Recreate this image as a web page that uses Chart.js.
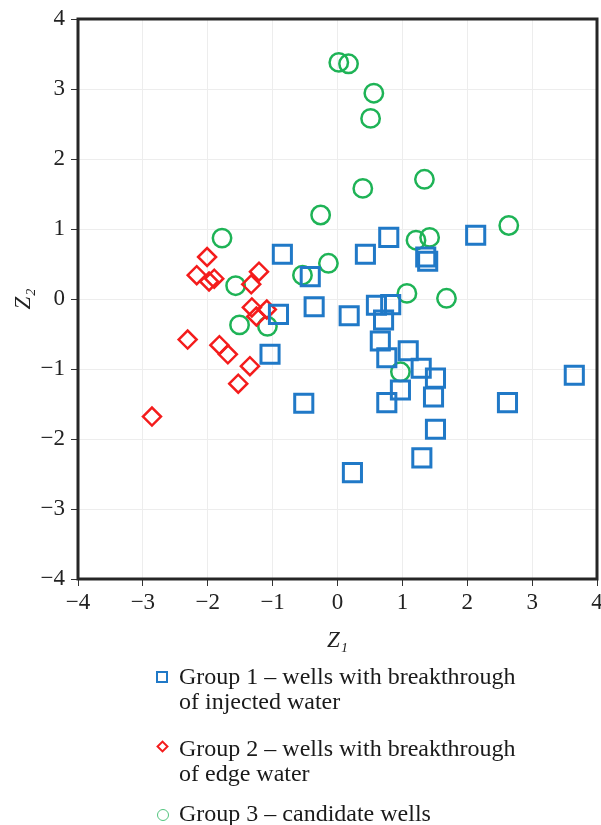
<!DOCTYPE html>
<html>
<head>
<meta charset="utf-8">
<script src="https://cdn.jsdelivr.net/npm/chart.js@4"></script>
<style>
  html, body { margin: 0; padding: 0; background: #fff; }
  #wrap { position: relative; width: 601px; height: 825px; overflow: hidden; }
  #c { position: absolute; left: 0; top: 0; }
  .lg { position: absolute; left: 179px; font-family: 'Liberation Serif', 'Times New Roman', serif; font-size: 24px; line-height: 25px; color: #1a1a1a; white-space: nowrap; }
  .mk { position: absolute; box-sizing: border-box; }
</style>
</head>
<body>
<div id="wrap">
  <canvas id="c" width="601" height="665"></canvas>
  <div id="legend"></div>
</div>
<script>
// ---- data ----
const group1X = [-0.85, -0.42, -0.36, -0.91, -1.04, -0.52, 0.43, 0.79, 1.36, 1.39, 2.13, 0.18, 0.60, 0.82, 0.71, 0.66, 1.09, 0.76, 1.29, 1.51, 0.97, 1.48, 0.76, 3.65, 2.62, 1.51, 1.30, 0.23];
const group1Y = [0.64, 0.32, -0.11, -0.22, -0.79, -1.49, 0.64, 0.88, 0.60, 0.54, 0.91, -0.24, -0.09, -0.08, -0.30, -0.60, -0.74, -0.84, -0.99, -1.13, -1.30, -1.40, -1.48, -1.09, -1.48, -1.86, -2.27, -2.48];

const group2X = [-2.01, -2.17, -1.98, -1.90, -1.21, -1.33, -1.32, -1.09, -1.25, -2.31, -1.82, -1.69, -1.35, -1.53, -2.86];
const group2Y = [0.60, 0.34, 0.25, 0.29, 0.39, 0.21, -0.12, -0.15, -0.25, -0.58, -0.66, -0.79, -0.96, -1.21, -1.68];

const group3X = [0.02, 0.17, 0.56, 0.51, 0.39, 1.34, -0.26, 2.64, 1.21, 1.42, -0.14, -0.54, 1.07, 1.68, 0.97, -1.78, -1.57, -1.51, -1.08];
const group3Y = [3.38, 3.36, 2.94, 2.58, 1.58, 1.71, 1.20, 1.05, 0.84, 0.88, 0.51, 0.34, 0.08, 0.01, -1.04, 0.87, 0.19, -0.37, -0.39];

const xTicks = [-4, -3, -2, -1, 0, 1, 2, 3, 4];
const yTicks = [-4, -3, -2, -1, 0, 1, 2, 3, 4];

const seriesNames = [
  ['Group 1 – wells with breakthrough', 'of injected water'],
  ['Group 2 – wells with breakthrough', 'of edge water'],
  ['Group 3 – candidate wells']
];
const xTitle = 'Z₁';
const yTitle = 'Z₂';

const BLUE = '#2079c7';
const RED = '#f41c1c';
const GREEN = '#1eb356';

function pts(xs, ys) { return xs.map((x, i) => ({ x: x, y: ys[i] })); }
function fmt(v) { return v < 0 ? '\u2212' + Math.abs(v) : String(v); }

const framePlugin = {
  id: 'frame',
  afterDatasetsDraw(chart) {
    const a = chart.chartArea, ctx = chart.ctx;
    ctx.save();
    ctx.strokeStyle = '#262626';
    ctx.lineWidth = 3;
    ctx.strokeRect(a.left, a.top, a.right - a.left, a.bottom - a.top);
    ctx.restore();
  }
};

const serif = "'Liberation Serif', 'Times New Roman', serif";

new Chart(document.getElementById('c'), {
  type: 'scatter',
  data: {
    datasets: [
      { label: seriesNames[0].join(' '), data: pts(group1X, group1Y), pointStyle: 'rect', pointRadius: 12.8, pointHoverRadius: 12.8,
        borderColor: BLUE, backgroundColor: 'rgba(0,0,0,0)', pointBorderWidth: 3 },
      { label: seriesNames[1].join(' '), data: pts(group2X, group2Y), pointStyle: 'rectRot', pointRadius: 9, pointHoverRadius: 9,
        borderColor: RED, backgroundColor: 'rgba(0,0,0,0)', pointBorderWidth: 2.5 },
      { label: seriesNames[2].join(' '), data: pts(group3X, group3Y), pointStyle: 'circle', pointRadius: 9.2, pointHoverRadius: 9.2,
        borderColor: GREEN, backgroundColor: 'rgba(0,0,0,0)', pointBorderWidth: 2.5 }
    ]
  },
  options: {
    responsive: false,
    animation: false,
    events: [],
    layout: { autoPadding: false, padding: { top: 19, right: 4, left: 0, bottom: 0 } },
    plugins: { legend: { display: false }, tooltip: { enabled: false } },
    scales: {
      x: {
        type: 'linear', min: -4, max: 4,
        afterBuildTicks: (s) => { s.ticks = xTicks.map(v => ({ value: v })); },
        afterFit: (s) => { s.height = 86; s.paddingLeft = 0; s.paddingRight = 0; },
        ticks: { callback: fmt, font: { family: serif, size: 23 }, color: '#222', padding: 3, maxRotation: 0 },
        grid: { color: '#ededed', tickColor: '#333', tickLength: 7, lineWidth: 1 },
        border: { display: false },
        title: { display: true, text: xTitle, font: { family: serif, size: 23, style: 'italic' }, color: '#222', padding: { top: 0, bottom: 10 } }
      },
      y: {
        type: 'linear', min: -4, max: 4,
        afterBuildTicks: (s) => { s.ticks = yTicks.map(v => ({ value: v })); },
        afterFit: (s) => { s.width = 78; s.paddingTop = 0; s.paddingBottom = 0; },
        ticks: { callback: fmt, font: { family: serif, size: 23 }, color: '#222', padding: 6 },
        grid: { color: '#ededed', tickColor: '#333', tickLength: 7, lineWidth: 1 },
        border: { display: false },
        title: { display: true, text: yTitle, font: { family: serif, size: 23, style: 'italic' }, color: '#222', padding: { top: 10, bottom: 0 } }
      }
    }
  },
  plugins: [framePlugin]
});

// ---- HTML legend (multi-line labels) ----
const legend = document.getElementById('legend');
const legendTops = [664, 736, 801];
const markers = [
  { css: 'left:156px;top:671px;width:12px;height:12px;border:2px solid ' + BLUE + ';' },
  { css: 'left:158px;top:742px;width:9px;height:9px;border:2px solid ' + RED + ';transform:rotate(45deg);' },
  { css: 'left:157px;top:809px;width:12px;height:12px;border:1.5px solid #52c47e;border-radius:50%;' }
];
seriesNames.forEach((lines, i) => {
  const t = document.createElement('div');
  t.className = 'lg';
  t.style.top = legendTops[i] + 'px';
  t.innerHTML = lines.join('<br>');
  legend.appendChild(t);
  const m = document.createElement('div');
  m.className = 'mk';
  m.style.cssText = markers[i].css;
  legend.appendChild(m);
});
</script>
</body>
</html>
